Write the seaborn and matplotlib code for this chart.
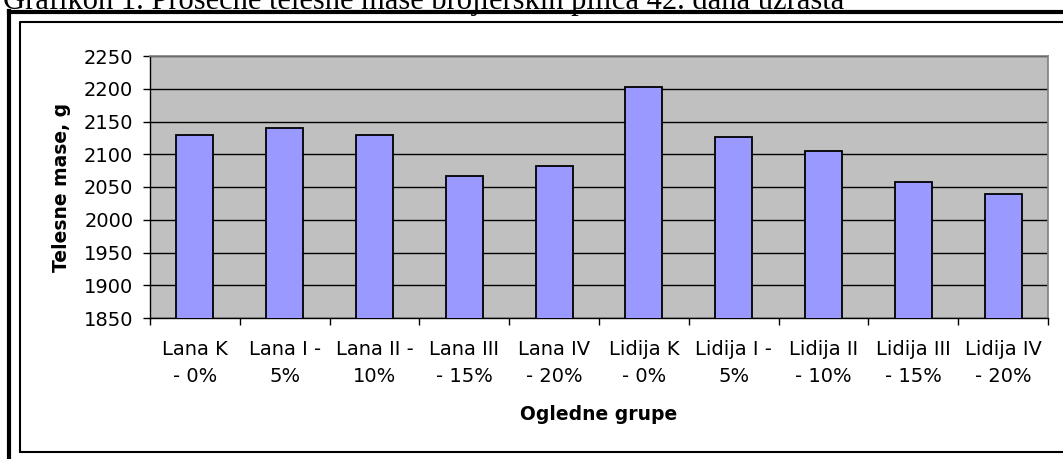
import matplotlib
matplotlib.use("Agg")
import matplotlib.pyplot as plt
import seaborn as sns
from matplotlib.lines import Line2D

groups = ["Lana K\n- 0%", "Lana I -\n5%", "Lana II -\n10%", "Lana III\n- 15%", "Lana IV\n- 20%",
          "Lidija K\n- 0%", "Lidija I -\n5%", "Lidija II\n- 10%", "Lidija III\n- 15%", "Lidija IV\n- 20%"]
masses = [2129, 2140, 2130, 2067, 2082, 2202, 2127, 2105, 2057, 2040]
y_ticks = list(range(1850, 2251, 50))

title = "Grafikon 1. Prosečne telesne mase brojlerskih pilića 42. dana uzrasta"

sns.set_style("white")
plt.rcParams["font.family"] = ["DejaVu Sans"]
plt.rcParams["text.color"] = "black"
plt.rcParams["axes.labelcolor"] = "black"
plt.rcParams["xtick.color"] = "black"
plt.rcParams["ytick.color"] = "black"

W, H = 1063, 459
fig = plt.figure(figsize=(W / 100, H / 100), dpi=100)
ax = fig.add_axes([150 / W, (H - 318) / H, 898 / W, 262 / H])

sns.barplot(x=list(range(len(groups))), y=masses, color="#9999FF", saturation=1,
            edgecolor="black", linewidth=1.3, width=0.41, ax=ax, zorder=3)

ax.set_facecolor("#C0C0C0")
ax.set_ylim(1850, 2250)
ax.set_xlim(-0.5, len(groups) - 0.5)
ax.set_yticks(y_ticks)
ax.yaxis.grid(True, color="black", linewidth=1.0)
ax.set_axisbelow(True)
ax.tick_params(axis="y", labelsize=14, length=5, width=1, direction="out", pad=7, left=True)

ax.set_xticks([i - 0.5 for i in range(len(groups) + 1)])
ax.set_xticklabels([])
ax.tick_params(axis="x", which="major", length=5, width=1, direction="out", bottom=True)
ax.set_xticks(range(len(groups)), minor=True)
ax.set_xticklabels(groups, minor=True, fontsize=14, linespacing=1.5)
ax.tick_params(axis="x", which="minor", length=0, pad=16)

for s in ["top", "right"]:
    ax.spines[s].set_color("#808080")
    ax.spines[s].set_linewidth(1.2)
for s in ["left", "bottom"]:
    ax.spines[s].set_color("black")
    ax.spines[s].set_linewidth(1.0)

ax.set_ylabel("Telesne mase, g", fontsize=13.5, fontweight="bold", labelpad=9)
ax.set_xlabel("Ogledne grupe", fontsize=13.5, fontweight="bold", labelpad=14)

# caption, partly cut by the top edge
fig.text(3 / W, 1 - 9 / H, title, family=["Liberation Serif", "DejaVu Serif"],
         fontsize=22, va="baseline", ha="left")

# double frame
fig.add_artist(Line2D([9 / W, 9 / W], [0, 1 - 11 / H], transform=fig.transFigure,
                      color="black", linewidth=3.0, solid_capstyle="projecting"))
fig.add_artist(Line2D([9 / W, 1.0], [1 - 11.5 / H, 1 - 11.5 / H], transform=fig.transFigure,
                      color="black", linewidth=3.0, solid_capstyle="projecting"))
fig.add_artist(Line2D([20 / W, 20 / W, 1.0], [1 - 452 / H, 1 - 21.5 / H, 1 - 21.5 / H],
                      transform=fig.transFigure, color="black", linewidth=1.5))
fig.add_artist(Line2D([20 / W, 1.0], [1 - 452 / H, 1 - 452 / H],
                      transform=fig.transFigure, color="black", linewidth=1.5))

fig.savefig("out.png", dpi=100)
